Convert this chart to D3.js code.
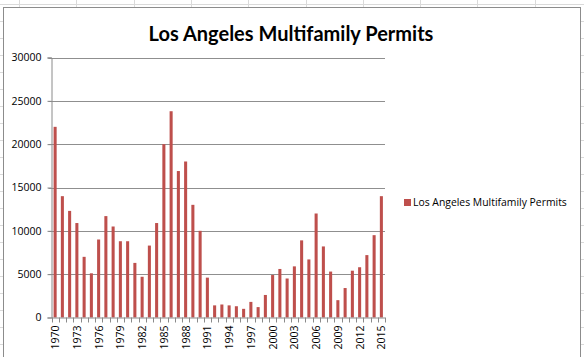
<!DOCTYPE html>
<html><head><meta charset="utf-8">
<script src="https://cdn.jsdelivr.net/npm/d3@7"></script>
<style>body{margin:0;background:#fff}svg{display:block}</style>
</head><body><svg id="c" width="584" height="357"></svg>
<script>
const years = d3.range(1970, 2016).map(String);
const permits = [22000,14000,12300,10900,7000,5100,9000,11700,10500,8800,
  8800,6300,4700,8300,10900,20000,23800,16900,18000,13000,
  10000,4600,1400,1500,1400,1300,1000,1800,1200,2600,
  4900,5600,4500,5900,8900,6700,12000,8200,5300,2000,
  3400,5400,5800,7200,9500,14000];
const yTicks = [0,5000,10000,15000,20000,25000,30000];
const xLabelYears = years.filter((d,i)=> i % 3 === 0);
const title = "Los Angeles Multifamily Permits";
const seriesName = "Los Angeles Multifamily  Permits";

(function(){
const svg = d3.select("#c");
const W = 584, H = 357;
// spreadsheet background cells
const bg = svg.append("g").attr("stroke","#dadada").attr("stroke-width",1);
d3.range(0, 12).forEach(k => { const xx = Math.round(19 + 57.3*k) + 0.5;
  bg.append("line").attr("x1",xx).attr("x2",xx).attr("y1",0).attr("y2",H); });
d3.range(0, 22).forEach(k => { const yy = Math.round(3.7 + 17*k) + 0.5;
  bg.append("line").attr("x1",0).attr("x2",W).attr("y1",yy).attr("y2",yy); });
// chart area
svg.append("rect").attr("x",3.5).attr("y",7.5).attr("width",577).attr("height",360)
  .attr("fill","#fff").attr("stroke","#8c8c8c").attr("stroke-width",1);

svg.append("text").attr("x",291).attr("y",41).attr("text-anchor","middle")
  .attr("font-family","Lato, 'Open Sans', sans-serif").attr("font-weight","bold")
  .attr("font-size",20).attr("fill","#000").text(title);

const pl = 51.5, pr = 385, pt = 57.5, pb = 317.5;
const x = d3.scaleBand().domain(years).range([pl, pr]).paddingInner(0.58).paddingOuter(0.29);
const y = d3.scaleLinear().domain([0,30000]).range([pb, pt]);

// gridlines
svg.append("g").selectAll("line").data(yTicks.filter(d=>d>0)).join("line")
  .attr("x1",pl-3).attr("x2",pr).attr("y1",d=>Math.round(y(d))+0.5).attr("y2",d=>Math.round(y(d))+0.5)
  .attr("stroke","#8f8f8f");

const yAxis = svg.append("g").attr("transform",`translate(${pl},0)`)
  .call(d3.axisLeft(y).tickValues(yTicks).tickSize(4).tickPadding(6).tickFormat(d3.format("d")));
yAxis.select(".domain").attr("stroke","#8a8a8a");
yAxis.selectAll(".tick line").attr("stroke","#8a8a8a");
yAxis.selectAll("text").attr("font-family","'Open Sans', sans-serif").attr("font-size",10.5).attr("fill","#000");

// bars
svg.append("g").selectAll("rect").data(permits).join("rect")
  .attr("x",(d,i)=>x(years[i])).attr("width",x.bandwidth())
  .attr("y",d=>y(d)).attr("height",d=>pb - y(d))
  .attr("fill","#BE4F4C");

// x axis
const step = x.step();
const xa = svg.append("g");
xa.append("line").attr("x1",pl).attr("x2",pr).attr("y1",pb+0.5).attr("y2",pb+0.5).attr("stroke","#8a8a8a");
xa.selectAll("line.t").data(d3.range(0, years.length+1)).join("line").attr("class","t")
  .attr("x1",i=>Math.round(pl + i*step)+0.5).attr("x2",i=>Math.round(pl + i*step)+0.5)
  .attr("y1",pb).attr("y2",pb+5).attr("stroke","#8a8a8a");
xa.selectAll("text").data(xLabelYears).join("text")
  .attr("transform",d=>`translate(${x(d)+x.bandwidth()/2+4},${pb+8}) rotate(-90)`)
  .attr("text-anchor","end").attr("font-family","'Open Sans', sans-serif").attr("font-size",10.5)
  .attr("fill","#000").text(d=>d);

// legend
const lg = svg.append("g").attr("transform","translate(404,199)");
lg.append("rect").attr("width",7).attr("height",7).attr("fill","#BE4F4C");
lg.append("text").attr("x",9).attr("y",7).attr("font-family","'Open Sans', sans-serif")
  .attr("font-size",10.4).attr("fill","#000").text(seriesName);
})();
</script></body></html>
